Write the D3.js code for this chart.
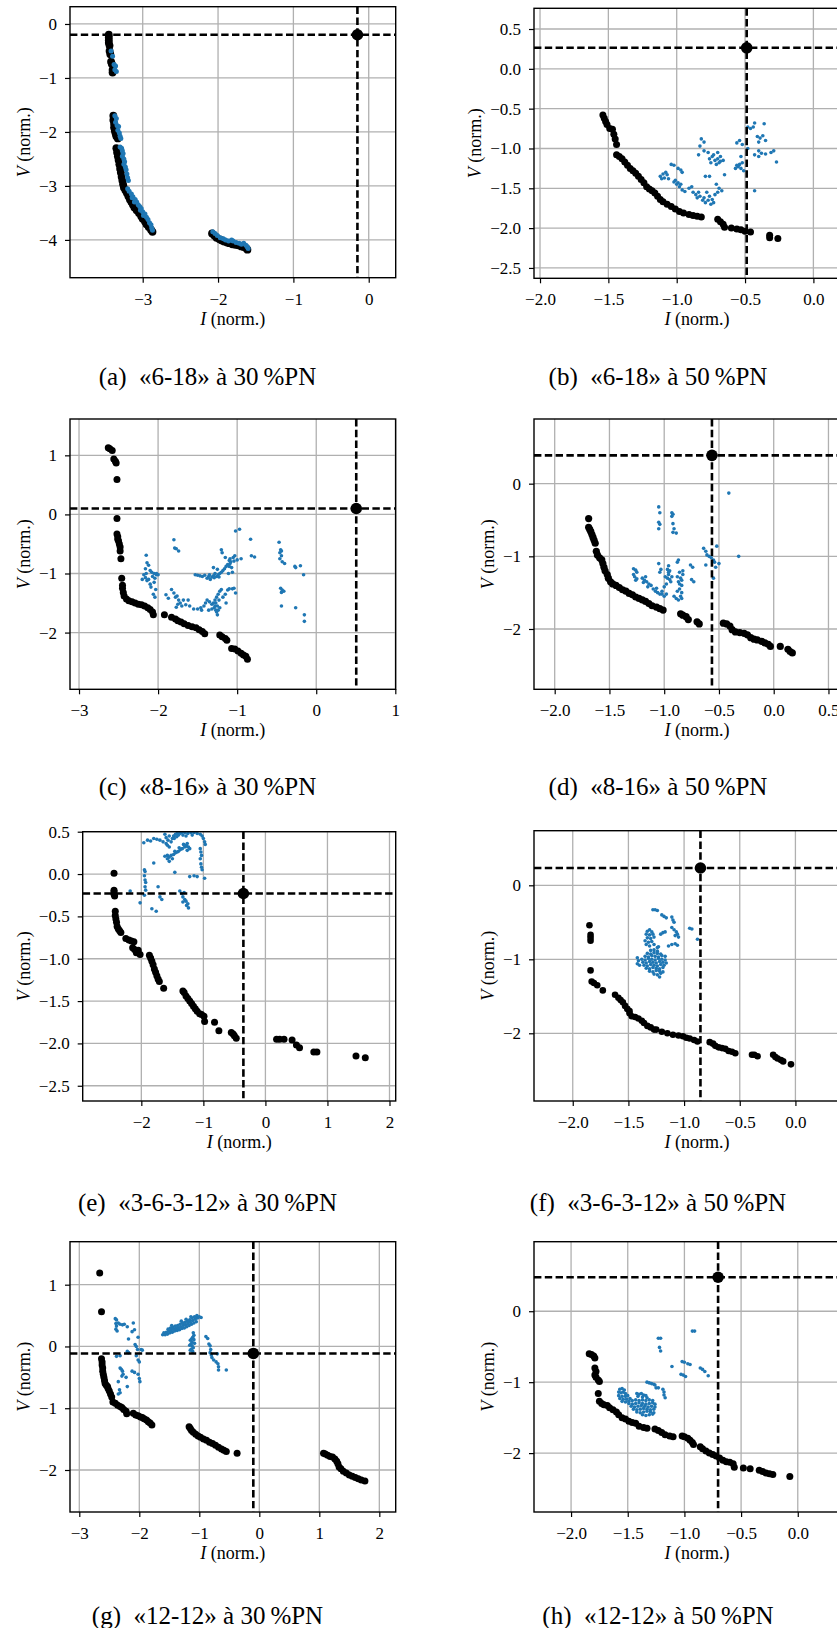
<!DOCTYPE html>
<html><head><meta charset="utf-8">
<script src="https://cdn.jsdelivr.net/npm/d3@7"></script>
<style>
body{margin:0;background:#fff}
svg{display:block}
text{font-family:"Liberation Serif","Times New Roman",serif;fill:#000}
</style>
</head><body>
<svg id="fig" width="837" height="1628"></svg>
<script>
// ---------- captions ----------
const captions = [
  "(a)\u2002«6-18» à 30\u2009%PN", "(b)\u2002«6-18» à 50\u2009%PN",
  "(c)\u2002«8-16» à 30\u2009%PN", "(d)\u2002«8-16» à 50\u2009%PN",
  "(e)\u2002«3-6-3-12» à 30\u2009%PN", "(f)\u2002«3-6-3-12» à 50\u2009%PN",
  "(g)\u2002«12-12» à 30\u2009%PN", "(h)\u2002«12-12» à 50\u2009%PN"
];

// ---------- axis limits and ticks ----------
const xDomainA = [-3.965, 0.358], yDomainA = [-4.70, 0.32];
const xTicksA = [-3,-2,-1,0], yTicksA = [0,-1,-2,-3,-4];
const xDomainB = [-2.044, 0.341], yDomainB = [-2.63, 0.76];
const xTicksB = [-2.0,-1.5,-1.0,-0.5,0.0,0.5], yTicksB = [0.5,0.0,-0.5,-1.0,-1.5,-2.0,-2.5];
const xDomainC = [-3.114, 1.005], yDomainC = [-2.96, 1.615];
const xTicksC = [-3,-2,-1,0,1], yTicksC = [1,0,-1,-2];
const xDomainD = [-2.189, 0.788], yDomainD = [-2.83, 0.89];
const xTicksD = [-2.0,-1.5,-1.0,-0.5,0.0,0.5], yTicksD = [0,-1,-2];
const xDomainE = [-2.945, 2.10], yDomainE = [-2.68, 0.50];
const xTicksE = [-2,-1,0,1,2], yTicksE = [0.5,0.0,-0.5,-1.0,-1.5,-2.0,-2.5];
const xDomainF = [-2.348, 0.580], yDomainF = [-2.915, 0.738];
const xTicksF = [-2.0,-1.5,-1.0,-0.5,0.0,0.5], yTicksF = [0,-1,-2];
const xDomainG = [-3.155, 2.273], yDomainG = [-2.68, 1.696];
const xTicksG = [-3,-2,-1,0,1,2], yTicksG = [1,0,-1,-2];
const xDomainH = [-2.327, 0.549], yDomainH = [-2.83, 0.98];
const xTicksH = [-2.0,-1.5,-1.0,-0.5,0.0,0.5], yTicksH = [0,-1,-2];

// ---------- operating points [I, V] ----------
const opA = [-0.15, -0.20];
const opB = [-0.488, 0.264];
const opC = [0.506, 0.10];
const opD = [-0.564, 0.39];
const opE = [-0.355, -0.23];
const opF = [-0.853, 0.234];
const opG = [-0.10, -0.113];
const opH = [-0.703, 0.479];

// ---------- panel (a) ----------
const blackA = [[-3.45,-0.20],[-3.45,-0.25],[-3.45,-0.30],[-3.45,-0.35],[-3.44,-0.40],[-3.44,-0.50],[-3.43,-0.56],[-3.42,-0.70],[-3.41,-0.74],[-3.40,-0.85],[-3.40,-0.90],
[-3.39,-1.70],[-3.39,-1.78],[-3.38,-1.85],[-3.38,-1.92],[-3.37,-1.98],[-3.36,-2.03],[-3.35,-2.08],[-3.33,-2.12],[-3.35,-2.30],[-3.34,-2.38],[-3.33,-2.45],[-3.32,-2.52],[-3.31,-2.60],[-3.30,-2.68],[-3.29,-2.75],[-3.28,-2.83],[-3.27,-2.90],[-3.26,-2.97],[-3.25,-3.03],[-3.23,-3.08],[-3.21,-3.13],[-3.19,-3.19],[-3.17,-3.25],[-3.15,-3.30],[-3.13,-3.35],[-3.11,-3.40],[-3.08,-3.45],[-3.05,-3.50],[-3.02,-3.56],[-3.00,-3.61],[-2.97,-3.66],[-2.95,-3.71],[-2.92,-3.76],[-2.89,-3.81],[-2.87,-3.85],
[-2.08,-3.88],[-2.05,-3.92],[-2.02,-3.96],[-1.98,-3.99],[-1.95,-4.01],[-1.92,-4.03],[-1.88,-4.05],[-1.85,-4.06],[-1.81,-4.08],[-1.77,-4.09],[-1.73,-4.10],[-1.69,-4.12],[-1.66,-4.13],[-1.63,-4.15],[-1.61,-4.18]];
const blueA = [[-3.42,-0.50],[-3.40,-0.60],[-3.38,-0.75],[-3.36,-0.78],[-3.37,-0.85],[-3.35,-0.88],
[-3.37,-1.70],[-3.35,-1.75],[-3.36,-1.82],[-3.34,-1.88],[-3.32,-1.90],[-3.33,-1.97],[-3.31,-2.02],[-3.30,-2.08],[-3.29,-2.12],[-3.30,-2.28],[-3.28,-2.30],[-3.27,-2.35],[-3.26,-2.40],[-3.27,-2.45],[-3.25,-2.50],[-3.24,-2.55],[-3.25,-2.60],[-3.23,-2.65],[-3.22,-2.70],[-3.21,-2.78],[-3.20,-2.85],[-3.19,-2.90],[-3.20,-3.05],[-3.18,-3.10],[-3.15,-3.15],[-3.13,-3.20],[-3.10,-3.25],[-3.08,-3.30],[-3.06,-3.35],[-3.04,-3.38],[-3.02,-3.42],[-3.00,-3.48],[-2.97,-3.52],[-2.95,-3.58],[-2.93,-3.62],[-2.91,-3.68],[-2.89,-3.72],[-2.88,-3.78],[-2.87,-3.82],[-3.14,-3.22],[-3.11,-3.30],[-3.03,-3.45],[-2.99,-3.55],
[-2.07,-3.85],[-2.04,-3.88],[-2.01,-3.92],[-1.97,-3.96],[-1.93,-3.98],[-1.90,-4.00],[-1.86,-4.02],[-1.82,-4.00],[-1.80,-4.02],[-1.76,-4.05],[-1.72,-4.06],[-1.69,-4.08],[-1.66,-4.06],[-1.63,-4.10],[-1.61,-4.13],[-1.60,-4.16]];

// ---------- panel (b) ----------
const blackB = [[-1.54,-0.58],[-1.53,-0.62],[-1.52,-0.66],[-1.51,-0.70],[-1.49,-0.75],[-1.47,-0.76],[-1.46,-0.82],[-1.45,-0.88],[-1.44,-0.95],[-1.44,-1.08],[-1.42,-1.10],[-1.40,-1.13],[-1.38,-1.17],[-1.36,-1.21],[-1.34,-1.25],[-1.32,-1.28],[-1.30,-1.31],[-1.28,-1.35],[-1.26,-1.39],[-1.24,-1.43],[-1.22,-1.48],[-1.20,-1.51],[-1.18,-1.53],[-1.16,-1.56],[-1.14,-1.60],[-1.12,-1.64],[-1.10,-1.67],[-1.07,-1.70],[-1.04,-1.73],[-1.01,-1.76],[-0.98,-1.79],[-0.95,-1.81],[-0.91,-1.83],[-0.88,-1.84],[-0.85,-1.85],[-0.82,-1.86],[-0.70,-1.89],[-0.68,-1.92],[-0.66,-1.95],[-0.65,-1.99],[-0.60,-2.00],[-0.56,-2.01],[-0.53,-2.02],[-0.50,-2.04],[-0.46,-2.05],[-0.32,-2.09],[-0.32,-2.12],[-0.26,-2.13]];
const blueB = [[-1.12,-1.35],[-1.10,-1.32],[-1.09,-1.37],[-1.07,-1.33],[-1.06,-1.38],[-1.11,-1.38],[-1.08,-1.30],
[-1.04,-1.20],[-1.02,-1.21],[-0.99,-1.25],[-0.97,-1.27],[-0.96,-1.30],
[-1.02,-1.42],[-1.00,-1.45],[-0.98,-1.48],[-0.96,-1.52],[-0.94,-1.54],[-0.99,-1.43],[-1.01,-1.40],[-0.97,-1.45],
[-0.91,-1.50],[-0.89,-1.48],[-0.88,-1.55],[-0.86,-1.58],[-0.85,-1.62],[-0.84,-1.55],
[-0.83,-1.60],[-0.81,-1.65],[-0.79,-1.68],[-0.77,-1.65],[-0.75,-1.70],[-0.73,-1.68],[-0.76,-1.60],[-0.78,-1.55],[-0.80,-1.62],[-0.74,-1.64],
[-0.82,-0.88],[-0.80,-0.92],[-0.83,-0.97],[-0.80,-1.03],[-0.84,-1.08],
[-0.77,-1.05],[-0.74,-1.10],[-0.72,-1.15],[-0.70,-1.13],[-0.68,-1.10],[-0.69,-1.18],[-0.71,-1.20],[-0.75,-1.18],[-0.73,-1.08],[-0.66,-1.15],[-0.70,-1.05],[-0.76,-1.13],[-0.68,-1.16],
[-0.71,-1.45],[-0.69,-1.50],[-0.67,-1.53],[-0.70,-1.55],[-0.72,-1.58],
[-0.79,-1.35],[-0.76,-1.35],[-0.65,-1.33],
[-0.56,-0.93],[-0.54,-0.90],[-0.52,-0.95],[-0.53,-1.10],[-0.54,-1.20],[-0.53,-1.25],[-0.51,-1.28],[-0.55,-1.23],[-0.52,-1.18],
[-0.48,-0.73],[-0.46,-0.75],[-0.44,-0.73],[-0.48,-1.00],[-0.43,-0.68],[-0.36,-0.69],
[-0.41,-0.85],[-0.39,-0.87],[-0.35,-0.90],[-0.37,-0.84],[-0.40,-0.92],
[-0.43,-1.08],[-0.40,-1.10],[-0.38,-1.06],[-0.35,-1.07],[-0.31,-1.05],[-0.29,-1.03],[-0.27,-1.17],[-0.40,-1.03],
[-0.43,-1.53],[-0.57,-1.25],[-0.56,-1.21]];

// ---------- panel (c) ----------
const blackC = [[-2.63,1.13],[-2.61,1.11],[-2.58,1.08],[-2.56,0.94],[-2.54,0.90],[-2.53,0.87],[-2.52,0.59],
[-2.52,-0.07],[-2.52,-0.33],[-2.51,-0.38],[-2.51,-0.42],[-2.50,-0.45],[-2.49,-0.50],[-2.48,-0.55],[-2.48,-0.62],[-2.47,-0.75],
[-2.46,-1.08],[-2.45,-1.20],[-2.45,-1.25],[-2.44,-1.32],[-2.43,-1.38],
[-2.40,-1.43],[-2.37,-1.46],[-2.33,-1.48],[-2.29,-1.50],[-2.25,-1.52],[-2.21,-1.53],[-2.17,-1.55],[-2.13,-1.58],[-2.10,-1.61],[-2.07,-1.65],[-2.06,-1.70],
[-1.92,-1.70],[-1.83,-1.74],[-1.78,-1.77],[-1.75,-1.80],[-1.71,-1.82],[-1.67,-1.85],[-1.62,-1.88],[-1.57,-1.90],[-1.52,-1.92],[-1.48,-1.95],[-1.44,-1.98],[-1.41,-2.02],
[-1.22,-2.04],[-1.19,-2.07],[-1.15,-2.10],[-1.13,-2.13],
[-1.07,-2.27],[-1.03,-2.28],[-0.99,-2.31],[-0.95,-2.35],[-0.92,-2.38],[-0.89,-2.40],[-0.87,-2.45]];
const blueC = [[-2.15,-0.69],[-2.14,-0.82],[-2.12,-0.86],[-2.16,-0.92],[-2.10,-0.95],[-2.08,-0.98],[-2.05,-1.00],[-2.02,-1.02],[-2.18,-1.02],[-2.16,-1.07],[-2.14,-1.12],[-2.12,-1.10],[-2.07,-1.05],[-2.04,-1.08],[-2.10,-1.18],[-2.09,-1.23],[-2.05,-1.15],[-2.03,-1.27],[-2.06,-1.35],[-2.04,-1.40],[-2.15,-1.00],[-2.20,-1.10],[-2.02,-1.00],[-2.00,-1.02],
[-1.90,-1.36],[-1.87,-1.42],[-1.83,-1.27],[-1.80,-1.33],[-1.78,-1.40],[-1.76,-1.38],[-1.74,-1.45],[-1.72,-1.50],[-1.70,-1.55],[-1.68,-1.45],[-1.65,-1.53],[-1.62,-1.45],[-1.60,-1.55],[-1.75,-1.52],[-1.77,-1.57],
[-1.80,-0.43],[-1.79,-0.57],[-1.77,-0.58],[-1.74,-0.62],
[-1.55,-1.60],[-1.50,-1.60],[-1.46,-1.58],[-1.42,-1.55],[-1.40,-1.50],[-1.38,-1.45],[-1.35,-1.48],[-1.32,-1.52],[-1.30,-1.50],[-1.28,-1.45],[-1.26,-1.40],[-1.24,-1.35],[-1.22,-1.30],[-1.20,-1.27],[-1.25,-1.55],[-1.27,-1.62],[-1.25,-1.70],[-1.27,-1.50],[-1.23,-1.45],[-1.29,-1.58],[-1.22,-1.58],[-1.18,-1.40],[-1.15,-1.35],[-1.12,-1.28],[-1.10,-1.26],[-1.06,-1.26],[-1.04,-1.25],[-1.02,-1.33],[-1.14,-1.50],[-1.32,-1.60],[-1.36,-1.62],[-1.45,-1.62],[-1.26,-1.65],[-1.24,-1.62],[-1.28,-1.55],
[-1.53,-1.02],[-1.50,-1.03],[-1.47,-1.04],[-1.44,-1.05],[-1.41,-1.03],[-1.38,-1.08],[-1.36,-1.05],[-1.34,-1.10],[-1.32,-1.06],[-1.30,-1.04],[-1.28,-1.00],[-1.26,-1.05],[-1.24,-1.02],[-1.22,-1.00],[-1.20,-0.98],[-1.18,-0.95],[-1.16,-0.92],[-1.14,-0.88],[-1.12,-0.85],[-1.10,-0.78],[-1.09,-0.75],[-1.08,-0.80],[-1.07,-0.90],[-1.06,-0.98],[-1.11,-1.00],[-1.30,-0.90],[-1.25,-0.93],[-1.15,-0.73],[-1.20,-0.60],[-1.19,-0.65],[-1.04,-0.79],[-1.00,-0.77],[-0.95,-0.75],[-1.02,-0.28],[-0.97,-0.25],[-1.10,-0.88],[-1.05,-0.73],[-1.03,-0.70],[-1.35,-1.02],[-1.29,-1.07],[-1.23,-1.06],[-1.09,-0.83],
[-0.83,-0.42],[-0.82,-0.70],[-0.78,-0.72],
[-0.47,-0.47],[-0.45,-0.60],[-0.44,-0.62],[-0.46,-0.65],[-0.44,-0.70],[-0.46,-0.75],[-0.43,-0.80],[-0.40,-0.83],
[-0.45,-1.25],[-0.43,-1.28],[-0.41,-1.30],[-0.44,-1.32],[-0.44,-1.55],
[-0.27,-0.88],[-0.26,-0.90],[-0.20,-0.87],[-0.16,-1.02],[-0.26,-1.58],[-0.15,-1.70],[-0.15,-1.81]];

// ---------- panel (d) ----------
const blackD = [[-1.69,-0.48],[-1.69,-0.60],[-1.68,-0.63],[-1.67,-0.66],[-1.66,-0.70],[-1.65,-0.74],[-1.64,-0.78],[-1.63,-0.82],
[-1.62,-0.93],[-1.61,-0.98],[-1.59,-1.02],[-1.57,-1.05],[-1.56,-1.10],[-1.55,-1.15],[-1.54,-1.20],[-1.52,-1.25],[-1.51,-1.30],[-1.49,-1.35],[-1.47,-1.38],
[-1.44,-1.40],[-1.41,-1.43],[-1.38,-1.46],[-1.35,-1.48],[-1.32,-1.51],[-1.29,-1.53],[-1.26,-1.56],[-1.23,-1.58],[-1.20,-1.60],[-1.17,-1.62],[-1.14,-1.65],[-1.11,-1.68],[-1.07,-1.70],[-1.04,-1.72],[-1.01,-1.74],
[-0.85,-1.79],[-0.83,-1.81],[-0.80,-1.83],[-0.78,-1.87],[-0.70,-1.90],[-0.68,-1.93],
[-0.46,-1.92],[-0.43,-1.93],[-0.40,-1.96],[-0.38,-2.01],[-0.35,-2.04],[-0.31,-2.05],[-0.27,-2.06],[-0.24,-2.08],[-0.21,-2.12],[-0.18,-2.14],[-0.15,-2.15],[-0.11,-2.17],[-0.08,-2.19],[-0.05,-2.21],[-0.03,-2.24],
[0.06,-2.24],[0.13,-2.28],[0.15,-2.31],[0.17,-2.33]];
const blueD = [[-1.28,-1.17],[-1.26,-1.19],[-1.25,-1.22],[-1.27,-1.28],[-1.26,-1.33],[-1.28,-1.25],[-1.25,-1.31],
[-1.20,-1.30],[-1.18,-1.33],[-1.16,-1.35],[-1.14,-1.38],[-1.12,-1.40],[-1.17,-1.28],[-1.19,-1.36],[-1.15,-1.42],
[-1.10,-1.45],[-1.08,-1.48],[-1.06,-1.50],[-1.04,-1.52],[-1.02,-1.48],[-1.00,-1.42],[-0.98,-1.38],[-0.97,-1.30],[-0.96,-1.25],[-0.95,-1.20],[-0.98,-1.52],[-1.00,-1.55],[-0.95,-1.32],[-0.93,-1.28],[-0.94,-1.35],[-0.97,-1.18],[-0.96,-1.13],[-1.03,-1.18],[-1.04,-1.22],[-1.05,-1.10],[-0.99,-1.28],[-1.07,-1.44],[-1.02,-1.52],[-0.96,-1.22],
[-0.91,-1.55],[-0.89,-1.58],[-0.87,-1.60],[-0.85,-1.55],[-0.84,-1.58],[-0.88,-1.48],[-0.86,-1.45],[-0.84,-1.40],[-0.87,-1.35],[-0.85,-1.30],[-0.83,-1.25],[-0.86,-1.22],[-0.88,-1.28],[-0.84,-1.33],[-0.88,-1.08],[-0.87,-1.05],[-0.83,-1.20],[-0.86,-1.38],[-0.84,-1.50],
[-0.76,-1.12],[-0.74,-1.15],[-0.75,-1.32],[-0.73,-1.35],
[-1.05,-0.32],[-1.04,-0.40],[-1.05,-0.53],[-1.04,-0.56],[-1.05,-0.62],
[-0.93,-0.40],[-0.92,-0.42],[-0.93,-0.45],[-0.92,-0.55],[-0.91,-0.62],[-0.92,-0.67],[-0.89,-0.68],
[-0.64,-0.89],[-0.62,-0.93],[-0.61,-0.98],[-0.59,-1.00],[-0.57,-1.02],[-0.55,-1.05],[-0.54,-1.08],[-0.52,-0.86],[-0.50,-1.10],[-0.53,-1.15],[-0.62,-1.12],[-0.55,-1.30],
[-0.41,-0.13],[-0.32,-1.00]];

// ---------- panel (e) ----------
const blackE = [[-2.44,0.01],[-2.44,-0.19],[-2.44,-0.21],[-2.44,-0.24],[-2.43,-0.26],
[-2.42,-0.44],[-2.42,-0.49],[-2.41,-0.53],[-2.40,-0.57],[-2.39,-0.62],[-2.37,-0.65],[-2.35,-0.67],[-2.33,-0.69],
[-2.25,-0.76],[-2.20,-0.78],[-2.16,-0.79],[-2.12,-0.80],[-2.14,-0.87],[-2.11,-0.89],[-2.08,-0.93],[-2.02,-0.95],[-2.05,-0.90],
[-1.87,-0.96],[-1.85,-0.99],[-1.83,-1.03],[-1.81,-1.07],[-1.79,-1.12],[-1.77,-1.16],[-1.75,-1.20],[-1.73,-1.24],[-1.71,-1.27],[-1.64,-1.35],
[-1.33,-1.38],[-1.31,-1.40],[-1.28,-1.44],[-1.25,-1.47],[-1.22,-1.50],[-1.19,-1.53],[-1.16,-1.56],[-1.13,-1.59],[-1.10,-1.62],[-1.06,-1.65],[-1.03,-1.66],[-0.99,-1.68],[-0.98,-1.74],
[-0.82,-1.75],[-0.75,-1.85],[-0.55,-1.87],[-0.52,-1.89],[-0.50,-1.91],[-0.47,-1.94],
[0.18,-1.95],[0.23,-1.95],[0.30,-1.95],[0.43,-1.96],[0.50,-2.02],[0.55,-2.05],[0.78,-2.10],[0.83,-2.10],[1.46,-2.15],[1.61,-2.17]];
const blueE = [[-1.96,0.37],[-1.90,0.40],[-1.85,0.39],[-1.80,0.42],[-1.75,0.41],[-1.70,0.40],[-1.65,0.38],[-1.60,0.36],[-1.58,0.34],[-1.55,0.32],[-1.52,0.38],[-1.50,0.42],[-1.48,0.45],[-1.45,0.47],[-1.42,0.48],[-1.40,0.46],[-1.38,0.48],[-1.35,0.49],[-1.30,0.49],[-1.25,0.48],[-1.20,0.49],[-1.15,0.49],[-1.10,0.48],[-1.05,0.47],[-1.02,0.45],[-1.00,0.42],[-0.98,0.38],[-0.97,0.35],[-1.60,0.43],[-1.55,0.45],[-1.62,0.47],[-1.57,0.40],[-1.47,0.42],[-1.43,0.44],[-1.33,0.46],[-1.28,0.45],[-1.18,0.46],
[-1.62,0.21],[-1.58,0.22],[-1.55,0.20],[-1.52,0.22],[-1.48,0.23],[-1.45,0.25],[-1.42,0.26],[-1.40,0.27],[-1.37,0.29],[-1.34,0.30],[-1.30,0.32],[-1.27,0.33],[-1.24,0.32],[-1.22,0.30],[-1.58,0.18],[-1.55,0.15],[-1.50,0.18],[-1.46,0.27],[-1.39,0.31],[-1.32,0.35],[-1.26,0.36],
[-1.05,0.30],[-1.04,0.26],[-1.03,0.22],[-1.05,0.18],[-1.04,0.12],[-1.03,0.08],[-1.02,0.05],
[-1.95,0.05],[-1.94,0.03],[-1.95,-0.02],[-1.94,-0.07],[-1.93,-0.10],[-1.94,-0.15],[-1.93,-0.19],[-1.95,-0.25],
[-1.80,0.13],[-1.73,-0.15],[-1.70,-0.27],[-1.67,-0.30],[-1.83,-0.41],[-1.76,-0.44],[-2.18,-0.20],[-2.02,-0.34],[-1.46,0.02],
[-1.38,-0.20],[-1.35,-0.23],[-1.33,-0.27],[-1.30,-0.30],[-1.28,-0.32],[-1.27,-0.37],[-1.25,-0.35],[-1.24,-0.40],[-1.33,-0.33],[-1.31,-0.22],
[-1.22,-0.03],[-1.15,-0.02],[-1.10,-0.03],[-0.98,-0.05],[-1.30,0.34],[-1.26,0.28]];

// ---------- panel (f) ----------
const blackF = [[-1.85,-0.54],[-1.84,-0.67],[-1.84,-0.71],[-1.84,-0.75],[-1.84,-1.15],[-1.83,-1.30],[-1.81,-1.32],[-1.78,-1.35],[-1.73,-1.42],
[-1.62,-1.48],[-1.59,-1.52],[-1.57,-1.55],[-1.55,-1.58],[-1.53,-1.63],[-1.51,-1.67],[-1.49,-1.70],
[-1.49,-1.73],[-1.47,-1.77],[-1.44,-1.78],[-1.41,-1.80],[-1.38,-1.83],[-1.36,-1.86],[-1.33,-1.90],[-1.30,-1.92],[-1.27,-1.95],
[-1.25,-1.95],[-1.20,-1.98],[-1.15,-2.00],[-1.10,-2.02],[-1.05,-2.03],[-1.01,-2.04],[-0.98,-2.06],[-0.95,-2.07],[-0.91,-2.09],[-0.88,-2.11],
[-0.77,-2.12],[-0.74,-2.14],[-0.72,-2.17],[-0.69,-2.19],[-0.66,-2.20],[-0.63,-2.21],[-0.60,-2.24],[-0.57,-2.25],[-0.54,-2.27],
[-0.39,-2.29],[-0.37,-2.29],[-0.34,-2.31],[-0.20,-2.29],[-0.18,-2.32],[-0.16,-2.34],[-0.13,-2.36],[-0.11,-2.38],[-0.04,-2.42]];
const blueF = [[-1.30,-0.88],[-1.27,-0.87],[-1.24,-0.89],
[-1.33,-0.92],[-1.30,-0.93],[-1.27,-0.91],[-1.24,-0.92],[-1.21,-0.93],
[-1.35,-0.96],[-1.32,-0.97],[-1.29,-0.95],[-1.26,-0.96],[-1.23,-0.97],[-1.20,-0.95],[-1.17,-0.96],
[-1.38,-1.00],[-1.35,-1.01],[-1.32,-0.99],[-1.29,-1.00],[-1.26,-1.01],[-1.23,-0.99],[-1.20,-1.00],[-1.17,-1.01],
[-1.37,-1.04],[-1.34,-1.05],[-1.31,-1.03],[-1.28,-1.04],[-1.25,-1.05],[-1.22,-1.03],[-1.19,-1.04],[-1.16,-1.05],
[-1.36,-1.08],[-1.33,-1.09],[-1.30,-1.07],[-1.27,-1.08],[-1.24,-1.09],[-1.21,-1.07],[-1.18,-1.08],
[-1.34,-1.12],[-1.31,-1.13],[-1.28,-1.11],[-1.25,-1.12],[-1.22,-1.13],[-1.19,-1.11],
[-1.31,-1.16],[-1.28,-1.17],[-1.25,-1.15],[-1.22,-1.16],[-1.19,-1.17],
[-1.27,-1.20],[-1.24,-1.21],[-1.21,-1.19],[-1.22,-1.24],
[-1.42,-0.98],[-1.41,-1.02],[-1.42,-1.06],[-1.40,-1.08],
[-1.33,-0.62],[-1.31,-0.60],[-1.29,-0.63],[-1.34,-0.66],[-1.31,-0.67],[-1.28,-0.66],[-1.33,-0.71],[-1.30,-0.72],[-1.27,-0.70],[-1.35,-0.75],[-1.32,-0.77],[-1.29,-0.76],[-1.34,-0.80],[-1.31,-0.82],[-1.27,-0.80],[-1.24,-0.84],
[-1.28,-0.33],[-1.26,-0.33],[-1.24,-0.34],[-1.20,-0.40],[-1.18,-0.42],[-1.16,-0.44],[-1.11,-0.43],[-1.10,-0.47],[-1.09,-0.50],[-1.11,-0.57],[-1.09,-0.60],[-1.07,-0.63],[-1.06,-0.66],[-1.21,-0.66],[-1.19,-0.64],[-1.17,-0.63],[-1.08,-0.68],[-1.05,-0.70],[-0.95,-0.58],[-0.93,-0.59],[-0.88,-0.73],[-1.14,-0.82],[-1.11,-0.80],[-1.08,-0.79],[-1.06,-0.81],[-1.23,-0.83]];

// ---------- panel (g) ----------
const blackG = [[-2.66,1.19],[-2.63,0.56],
[-2.63,-0.20],[-2.62,-0.25],[-2.62,-0.30],[-2.61,-0.35],[-2.61,-0.40],[-2.60,-0.45],[-2.59,-0.50],[-2.58,-0.55],
[-2.57,-0.60],[-2.55,-0.63],[-2.53,-0.65],[-2.52,-0.68],[-2.50,-0.72],[-2.48,-0.77],[-2.46,-0.82],[-2.44,-0.90],
[-2.40,-0.92],[-2.36,-0.95],[-2.32,-0.97],[-2.29,-0.99],[-2.26,-1.02],[-2.22,-1.05],[-2.21,-1.09],
[-2.10,-1.08],[-2.06,-1.11],[-2.02,-1.12],[-1.98,-1.14],[-1.95,-1.15],[-1.92,-1.17],[-1.88,-1.19],[-1.85,-1.22],[-1.82,-1.24],[-1.79,-1.27],
[-1.17,-1.30],[-1.15,-1.33],[-1.13,-1.36],[-1.10,-1.39],[-1.06,-1.42],[-1.02,-1.45],[-0.98,-1.47],[-0.93,-1.50],[-0.88,-1.52],[-0.83,-1.55],[-0.78,-1.57],[-0.73,-1.60],[-0.68,-1.63],[-0.63,-1.66],[-0.59,-1.68],[-0.55,-1.70],[-0.37,-1.73],
[1.07,-1.73],[1.10,-1.74],[1.14,-1.76],[1.18,-1.78],[1.22,-1.79],[1.26,-1.82],[1.29,-1.86],[1.31,-1.90],[1.33,-1.95],[1.36,-1.98],[1.40,-2.02],[1.45,-2.05],[1.50,-2.08],[1.55,-2.10],[1.60,-2.12],[1.65,-2.14],[1.70,-2.16],[1.76,-2.18]];
const blueG = [[-2.40,0.45],[-2.38,0.43],[-2.39,0.37],[-2.38,0.33],[-2.39,0.28],[-2.37,0.25],[-2.35,0.38],[-2.32,0.36],[-2.28,0.35],[-2.25,0.36],[-2.20,0.32],[-2.10,0.38],[-2.08,0.27],[-2.12,0.24],[-2.18,0.12],[-2.02,0.15],
[-2.20,-0.08],[-2.18,-0.10],[-2.07,0.03],[-2.05,0.00],[-2.03,-0.05],[-1.97,-0.05],[-1.95,-0.06],[-2.05,-0.15],[-2.02,-0.22],[-2.00,-0.25],[-2.32,-0.15],[-2.38,-0.16],
[-2.32,-0.35],[-2.30,-0.37],[-2.28,-0.40],[-2.27,-0.45],[-2.29,-0.48],[-2.12,-0.40],[-2.08,-0.42],[-2.02,-0.45],[-2.00,-0.52],[-1.99,-0.57],[-2.35,-0.57],[-2.22,-0.50],[-2.20,-0.65],[-2.33,-0.70],[-2.32,-0.75],[-2.35,-0.77],
[-1.61,0.19],[-1.57,0.19],[-1.53,0.20],[-1.49,0.22],[-1.45,0.23],[-1.41,0.25],[-1.37,0.26],[-1.33,0.27],[-1.29,0.29],[-1.25,0.30],[-1.21,0.32],[-1.17,0.34],[-1.13,0.36],[-1.09,0.38],[-1.05,0.40],
[-1.59,0.22],[-1.55,0.23],[-1.51,0.25],[-1.47,0.26],[-1.43,0.28],[-1.39,0.29],[-1.35,0.30],[-1.31,0.32],[-1.27,0.34],[-1.23,0.35],[-1.19,0.37],[-1.15,0.39],[-1.11,0.42],[-1.07,0.44],[-1.03,0.46],
[-1.52,0.28],[-1.48,0.30],[-1.44,0.31],[-1.40,0.33],[-1.36,0.34],[-1.32,0.36],[-1.28,0.38],[-1.24,0.39],[-1.20,0.41],[-1.16,0.43],[-1.12,0.46],[-1.08,0.48],[-1.04,0.50],[-1.00,0.48],[-0.97,0.47],
[-1.46,0.34],[-1.30,0.41],[-1.22,0.44],[-1.14,0.48],
[-1.10,0.22],[-1.09,0.18],[-1.11,0.15],[-1.13,0.12],[-1.15,0.10],[-1.12,0.07],[-1.14,0.04],[-1.16,0.02],[-1.12,0.01],[-1.10,-0.02],[-1.13,-0.04],[-1.15,-0.06],[-1.11,-0.08],[-1.08,0.05],[-1.09,0.11],
[-0.89,0.16],[-0.86,0.13],[-0.84,0.04],[-0.82,0.01],[-0.81,-0.05],[-0.82,-0.10],[-0.80,-0.14],[-0.79,-0.18],[-0.76,-0.22],[-0.72,-0.25],[-0.69,-0.28],[-0.68,-0.33],[-0.68,-0.38],[-0.70,-0.12],[-0.55,-0.38]];

// ---------- panel (h) ----------
const blackH = [[-1.84,-0.60],[-1.82,-0.61],[-1.80,-0.63],[-1.79,-0.66],[-1.79,-0.80],[-1.78,-0.85],[-1.79,-0.90],[-1.78,-0.93],[-1.76,-0.97],[-1.75,-0.99],
[-1.76,-1.16],[-1.75,-1.27],[-1.73,-1.30],[-1.71,-1.32],
[-1.68,-1.33],[-1.66,-1.36],[-1.63,-1.39],[-1.60,-1.42],[-1.58,-1.46],[-1.55,-1.50],[-1.52,-1.52],[-1.49,-1.55],[-1.46,-1.57],[-1.43,-1.58],[-1.40,-1.62],[-1.36,-1.64],[-1.33,-1.65],
[-1.26,-1.66],[-1.23,-1.68],[-1.20,-1.71],[-1.17,-1.74],[-1.13,-1.76],[-1.10,-1.77],
[-1.02,-1.76],[-1.00,-1.77],[-0.97,-1.79],[-0.95,-1.82],[-0.93,-1.85],[-0.92,-1.88],
[-0.86,-1.91],[-0.84,-1.94],[-0.81,-1.97],[-0.78,-2.00],[-0.75,-2.02],[-0.72,-2.04],[-0.69,-2.07],[-0.66,-2.10],[-0.63,-2.12],[-0.60,-2.13],[-0.57,-2.15],[-0.56,-2.20],
[-0.48,-2.21],[-0.42,-2.22],[-0.34,-2.24],[-0.31,-2.26],[-0.28,-2.28],[-0.25,-2.29],[-0.22,-2.30],[-0.07,-2.33]];
const blueH = [[-1.57,-1.10],[-1.55,-1.09],[-1.53,-1.11],[-1.58,-1.14],[-1.56,-1.15],[-1.54,-1.14],[-1.52,-1.16],[-1.58,-1.19],[-1.55,-1.20],[-1.52,-1.20],[-1.50,-1.19],[-1.57,-1.23],[-1.54,-1.24],[-1.51,-1.24],[-1.48,-1.23],[-1.55,-1.27],[-1.52,-1.28],[-1.49,-1.27],
[-1.42,-1.16],[-1.40,-1.17],[-1.38,-1.16],[-1.36,-1.18],[-1.34,-1.19],[-1.41,-1.20],[-1.37,-1.21],[-1.33,-1.22],
[-1.46,-1.26],[-1.43,-1.25],[-1.40,-1.26],[-1.37,-1.25],[-1.34,-1.26],[-1.31,-1.25],[-1.28,-1.26],
[-1.49,-1.30],[-1.46,-1.31],[-1.43,-1.30],[-1.40,-1.29],[-1.37,-1.30],[-1.34,-1.31],[-1.31,-1.30],[-1.28,-1.29],[-1.26,-1.31],
[-1.47,-1.34],[-1.44,-1.35],[-1.41,-1.34],[-1.38,-1.33],[-1.35,-1.34],[-1.32,-1.35],[-1.29,-1.34],[-1.26,-1.35],
[-1.45,-1.38],[-1.42,-1.39],[-1.39,-1.38],[-1.36,-1.37],[-1.33,-1.38],[-1.30,-1.39],[-1.27,-1.38],
[-1.42,-1.42],[-1.39,-1.43],[-1.36,-1.42],[-1.33,-1.41],[-1.30,-1.42],[-1.27,-1.43],
[-1.37,-1.46],[-1.34,-1.47],[-1.31,-1.46],[-1.28,-1.45],
[-1.33,-1.00],[-1.31,-1.01],[-1.29,-1.02],[-1.27,-1.03],[-1.26,-1.04],[-1.25,-1.08],[-1.23,-1.08],[-1.19,-1.10],[-1.18,-1.14],[-1.18,-1.18],[-1.17,-1.22],
[-1.23,-0.38],[-1.21,-0.38],[-1.22,-0.51],[-1.21,-0.56],[-1.11,-0.78],[-1.02,-0.71],[-1.00,-0.72],[-0.97,-0.74],[-0.95,-0.75],[-1.03,-0.89],[-1.01,-0.90],[-0.99,-0.92],[-0.86,-0.80],[-0.84,-0.82],[-0.82,-0.85],[-0.79,-0.91],[-0.93,-0.28],[-0.91,-0.28]];

// ---------- assemble panels ----------
const panelData = [
  {black:blackA, blue:blueA, op:opA, xd:xDomainA, yd:yDomainA, xt:xTicksA, yt:yTicksA, cap:captions[0]},
  {black:blackB, blue:blueB, op:opB, xd:xDomainB, yd:yDomainB, xt:xTicksB, yt:yTicksB, cap:captions[1]},
  {black:blackC, blue:blueC, op:opC, xd:xDomainC, yd:yDomainC, xt:xTicksC, yt:yTicksC, cap:captions[2]},
  {black:blackD, blue:blueD, op:opD, xd:xDomainD, yd:yDomainD, xt:xTicksD, yt:yTicksD, cap:captions[3]},
  {black:blackE, blue:blueE, op:opE, xd:xDomainE, yd:yDomainE, xt:xTicksE, yt:yTicksE, cap:captions[4]},
  {black:blackF, blue:blueF, op:opF, xd:xDomainF, yd:yDomainF, xt:xTicksF, yt:yTicksF, cap:captions[5]},
  {black:blackG, blue:blueG, op:opG, xd:xDomainG, yd:yDomainG, xt:xTicksG, yt:yTicksG, cap:captions[6]},
  {black:blackH, blue:blueH, op:opH, xd:xDomainH, yd:yDomainH, xt:xTicksH, yt:yTicksH, cap:captions[7]}
];
// layout (pixels) and marker styles
const layout = [
  {box:[70,395.7,6.7,277.7],  cap:[207.5,385],  fx:"d",   fy:"d",   rb:3.9, rl:2.5},
  {box:[534,860,8.3,278.3],   cap:[658,385],    fx:".1f", fy:".1f", rb:3.5, rl:1.8},
  {box:[70,395.7,419,689.3],  cap:[207.5,795],  fx:"d",   fy:"d",   rb:3.5, rl:1.8},
  {box:[534,860,419,689.3],   cap:[658,795],    fx:".1f", fy:"d",   rb:3.6, rl:1.8},
  {box:[82.7,395.7,831.7,1101], cap:[207.5,1211], fx:"d", fy:".1f", rb:3.5, rl:1.8},
  {box:[534,860,830.7,1101],  cap:[658,1211],   fx:".1f", fy:"d",   rb:3.3, rl:1.8},
  {box:[70,395.7,1241.7,1512], cap:[207.5,1624], fx:"d",  fy:"d",   rb:3.5, rl:1.8},
  {box:[534,860,1241.7,1512], cap:[658,1624],   fx:".1f", fy:"d",   rb:3.5, rl:1.8}
];

const svg = d3.select("#fig");
const BLUE = "#1f77b4";
const FONT = '"Liberation Serif","Times New Roman",serif';

panelData.forEach((p, i) => {
  const L = layout[i];
  const [l, r, t, b] = L.box;
  const x = d3.scaleLinear().domain(p.xd).range([l, r]);
  const y = d3.scaleLinear().domain(p.yd).range([b, t]);
  const g = svg.append("g");
  const clipId = "clip" + i;
  g.append("clipPath").attr("id", clipId)
    .append("rect").attr("x", l).attr("y", t).attr("width", r - l).attr("height", b - t);

  // grid
  const grid = g.append("g").attr("clip-path", `url(#${clipId})`);
  grid.selectAll(".gx").data(p.xt).join("line")
    .attr("x1", d => x(d)).attr("x2", d => x(d)).attr("y1", t).attr("y2", b)
    .attr("stroke", "#b0b0b0").attr("stroke-width", 1.3);
  grid.selectAll(".gy").data(p.yt).join("line")
    .attr("y1", d => y(d)).attr("y2", d => y(d)).attr("x1", l).attr("x2", r)
    .attr("stroke", "#b0b0b0").attr("stroke-width", 1.3);

  const plot = g.append("g").attr("clip-path", `url(#${clipId})`);
  plot.append("g").selectAll("circle").data(p.black).join("circle")
    .attr("cx", d => x(d[0])).attr("cy", d => y(d[1])).attr("r", L.rb).attr("fill", "#000");
  plot.append("g").selectAll("circle").data(p.blue).join("circle")
    .attr("cx", d => x(d[0])).attr("cy", d => y(d[1])).attr("r", L.rl).attr("fill", BLUE);

  // operating point crosshair
  plot.append("line").attr("x1", l).attr("x2", r).attr("y1", y(p.op[1])).attr("y2", y(p.op[1]))
    .attr("stroke", "#000").attr("stroke-width", 2.6).attr("stroke-dasharray", "7.4,3.4");
  plot.append("line").attr("y1", t).attr("y2", b).attr("x1", x(p.op[0])).attr("x2", x(p.op[0]))
    .attr("stroke", "#000").attr("stroke-width", 2.6).attr("stroke-dasharray", "7.4,3.4");
  plot.append("circle").attr("cx", x(p.op[0])).attr("cy", y(p.op[1])).attr("r", 5.8).attr("fill", "#000");

  // axes
  const xa = g.append("g").attr("transform", `translate(0,${b})`)
    .call(d3.axisBottom(x).tickValues(p.xt.filter(v => x(v) <= 840)).tickFormat(d3.format(L.fx)).tickSize(5).tickPadding(10));
  const ya = g.append("g").attr("transform", `translate(${l},0)`)
    .call(d3.axisLeft(y).tickValues(p.yt).tickFormat(d3.format(L.fy)).tickSize(5).tickPadding(8));
  [xa, ya].forEach(a => {
    a.attr("font-family", FONT);
    a.select(".domain").remove();
    a.selectAll("line").attr("stroke", "#000").attr("stroke-width", 1.2);
    a.selectAll("text").attr("font-size", 17).attr("font-family", FONT).attr("fill", "#000");
  });

  // spines
  g.append("rect").attr("x", l).attr("y", t).attr("width", r - l).attr("height", b - t)
    .attr("fill", "none").attr("stroke", "#000").attr("stroke-width", 1.4);

  // axis labels
  const xl = g.append("text").attr("x", (l + Math.min(r, 860)) / 2).attr("y", b + 47)
    .attr("text-anchor", "middle").attr("font-size", 18);
  xl.append("tspan").attr("font-style", "italic").text("I");
  xl.append("tspan").text(" (norm.)");

  const bb = ya.node().getBBox();
  const yx = l + bb.x - 9;
  const yl = g.append("text").attr("transform", `translate(${yx},${(t + b) / 2}) rotate(-90)`)
    .attr("text-anchor", "middle").attr("font-size", 18);
  yl.append("tspan").attr("font-style", "italic").text("V");
  yl.append("tspan").text(" (norm.)");

  // caption
  g.append("text").attr("x", L.cap[0]).attr("y", L.cap[1]).attr("text-anchor", "middle")
    .attr("font-size", 25).text(p.cap);
});
</script>
</body></html>
